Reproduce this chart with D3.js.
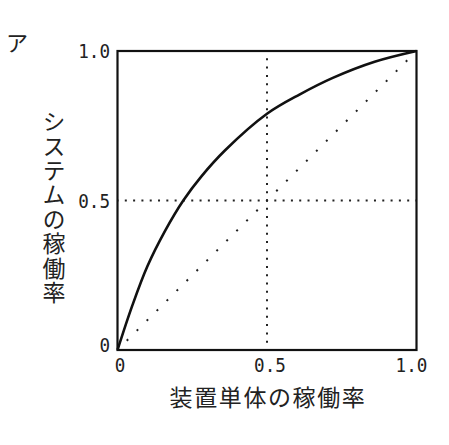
<!DOCTYPE html>
<html lang="ja">

<head>
  <title></title>
  <meta charset="UTF-8">
  <style>
    body {
      margin: 0;
      background: #fff;
    }

    .num {
      font-family: "DejaVu Sans Mono", monospace;
      font-size: 20px;
      fill: #222;
    }

    .jp {
      font-family: "Noto Sans CJK JP", sans-serif;
      fill: #222;
    }
  </style>
</head>

<body>
  <div id="container"></div>
  <script src="https://cdn.jsdelivr.net/npm/d3@7"></script>
  <script>
    // values
    const unitRate = [0, 0.05, 0.1, 0.16, 0.22, 0.28, 0.36, 0.5, 0.61, 0.72, 0.86, 1];
    const systemRate = [0, 0.15, 0.28, 0.4, 0.5, 0.58, 0.668, 0.79, 0.855, 0.91, 0.964, 1];
    const tickValues = [0, 0.5, 1];
    const tickLabels = ['0', '0.5', '1.0'];
    const xTitle = '装置単体の稼働率';
    const yTitle = 'システムの稼働率';
    const panelLabel = 'ア';

    const size = { w: 449, h: 445 };
    const plot = { left: 117.5, top: 51, side: 299 };

    const x = d3.scaleLinear().domain([0, 1]).range([plot.left, plot.left + plot.side]);
    const y = d3.scaleLinear().domain([0, 1]).range([plot.top + plot.side, plot.top]);

    const svg = d3.select('#container')
      .append('svg')
      .attr('width', size.w)
      .attr('height', size.h);

    // dotted guides
    const step = plot.side / 36;
    svg.append('line')
      .attr('x1', x(0.5)).attr('x2', x(0.5))
      .attr('y1', y(1)).attr('y2', y(0))
      .style('stroke', '#222')
      .style('stroke-width', 2)
      .style('stroke-dasharray', '2 ' + (step - 2))
      .style('stroke-dashoffset', 1 - step);
    svg.append('line')
      .attr('x1', x(0)).attr('x2', x(1))
      .attr('y1', y(0.5)).attr('y2', y(0.5))
      .style('stroke', '#222')
      .style('stroke-width', 2)
      .style('stroke-dasharray', '2 ' + (step - 2))
      .style('stroke-dashoffset', 1 - step);

    // diagonal y = x
    const diagStep = plot.side * Math.SQRT2 / 30;
    svg.append('line')
      .attr('x1', x(0)).attr('y1', y(0))
      .attr('x2', x(1)).attr('y2', y(1))
      .style('stroke', '#222')
      .style('stroke-width', 2)
      .style('stroke-dasharray', '2 ' + (diagStep - 2))
      .style('stroke-dashoffset', 1);

    // curve
    const line = d3.line()
      .x(d => x(d[0]))
      .y(d => y(d[1]))
      .curve(d3.curveCatmullRom);
    svg.append('path')
      .datum(d3.zip(unitRate, systemRate))
      .attr('d', line)
      .style('fill', 'none')
      .style('stroke', '#111')
      .style('stroke-width', 2.6);

    // frame
    svg.append('rect')
      .attr('x', x(0)).attr('y', y(1))
      .attr('width', plot.side).attr('height', plot.side)
      .style('fill', 'none')
      .style('stroke', '#111')
      .style('stroke-width', 2.2);

    // y tick labels
    svg.selectAll('.ytick')
      .data(tickValues)
      .enter()
      .append('g')
      .attr('transform', d => 'translate(110,' + (y(d) + (d === 0 ? -5 : 0)) + ') scale(0.88,1)')
      .append('text')
      .attr('class', 'num')
      .attr('text-anchor', 'end')
      .attr('dy', '0.36em')
      .text((d, i) => tickLabels[i]);

    // x tick labels
    const xShift = [2.5, 3, -5];
    svg.selectAll('.xtick')
      .data(tickValues)
      .enter()
      .append('g')
      .attr('transform', (d, i) => 'translate(' + (x(d) + xShift[i]) + ',365) scale(0.88,1)')
      .append('text')
      .attr('class', 'num')
      .attr('text-anchor', 'middle')
      .attr('dy', '0.36em')
      .text((d, i) => tickLabels[i]);

    // axis titles
    svg.append('text')
      .attr('class', 'jp')
      .attr('x', 268)
      .attr('y', 398)
      .attr('dy', '0.35em')
      .attr('text-anchor', 'middle')
      .style('font-size', '23px')
      .style('letter-spacing', '1.6px')
      .text(xTitle);

    svg.append('text')
      .attr('class', 'jp')
      .attr('x', 54)
      .attr('y', 110)
      .style('font-size', '23px')
      .style('writing-mode', 'vertical-rl')
      .style('text-orientation', 'upright')
      .style('letter-spacing', '1.4px')
      .text(yTitle);

    svg.append('text')
      .attr('class', 'jp')
      .attr('x', 6)
      .attr('y', 43)
      .attr('dy', '0.35em')
      .style('font-size', '22px')
      .text(panelLabel);
  </script>
</body>

</html>
